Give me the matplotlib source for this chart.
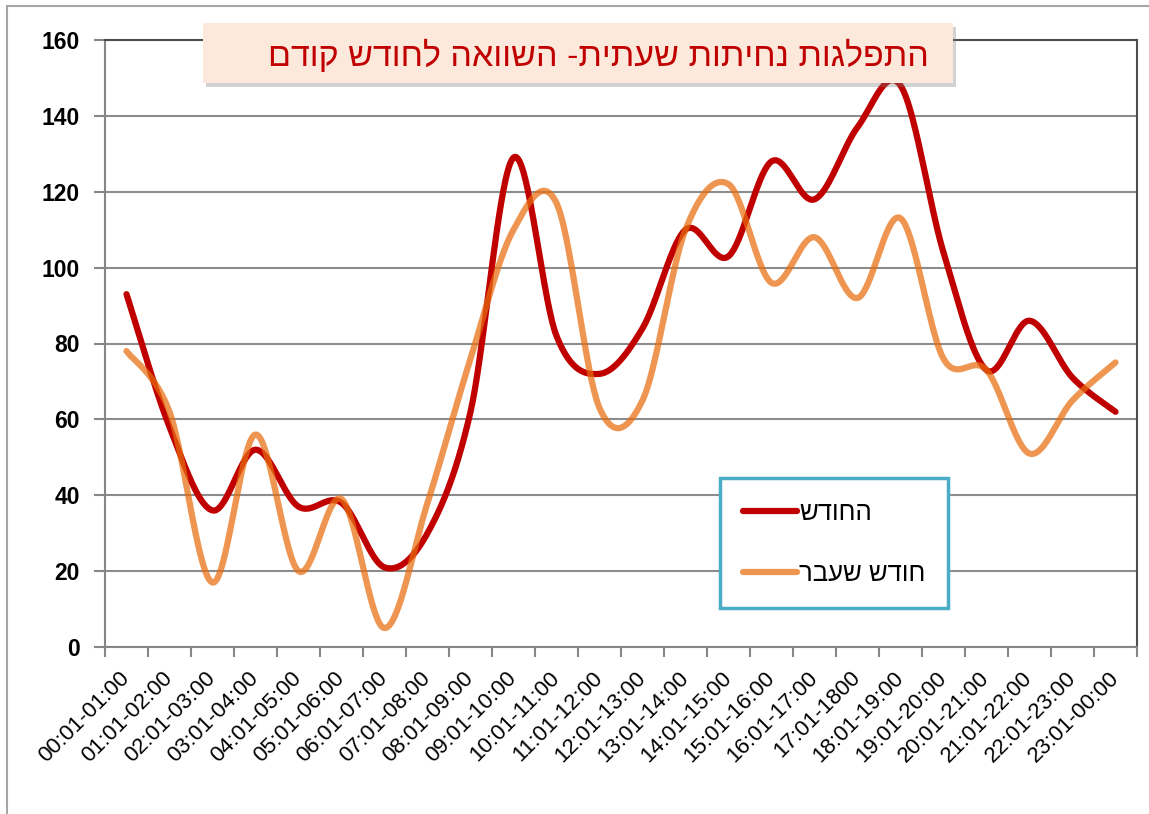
import matplotlib
matplotlib.use("Agg")
import matplotlib.pyplot as plt
import numpy as np
from matplotlib.patches import Rectangle

# ---------------- data ----------------
categories = ["00:01-01:00", "01:01-02:00", "02:01-03:00", "03:01-04:00", "04:01-05:00",
              "05:01-06:00", "06:01-07:00", "07:01-08:00", "08:01-09:00", "09:01-10:00",
              "10:01-11:00", "11:01-12:00", "12:01-13:00", "13:01-14:00", "14:01-15:00",
              "15:01-16:00", "16:01-17:00", "17:01-1800", "18:01-19:00", "19:01-20:00",
              "20:01-21:00", "21:01-22:00", "22:01-23:00", "23:01-00:00"]
this_month = [93, 58, 36, 52, 37, 38, 21, 30, 62, 129, 82, 72, 84, 110, 103, 128,
              118, 137, 148, 104, 73, 86, 71, 62]
last_month = [78, 62, 17, 56, 20, 39, 5, 38, 76, 110, 117, 63, 65, 110, 122, 96,
              108, 92, 113, 76, 73, 51, 65, 75]
series_names = ["החודש", "חודש שעבר"]
title_text = "התפלגות נחיתות שעתית- השוואה לחודש קודם"
y_ticks = [0, 20, 40, 60, 80, 100, 120, 140, 160]


def visual(s):
    # matplotlib has no bidi support: reverse Hebrew for right-to-left display
    return s[::-1]


def smooth(xs, ys, n=40):
    """Excel-like smoothed line (Catmull-Rom through the points as cubic Bezier)."""
    xs = np.asarray(xs, float)
    ys = np.asarray(ys, float)
    P = np.column_stack([xs, ys])
    out = []
    m = len(P)
    for i in range(m - 1):
        p0 = P[i - 1] if i > 0 else P[i]
        p1 = P[i]
        p2 = P[i + 1]
        p3 = P[i + 2] if i + 2 < m else P[i + 1]
        c1 = p1 + (p2 - p0) / 6.0
        c2 = p2 - (p3 - p1) / 6.0
        t = np.linspace(0, 1, n)[:, None]
        seg = ((1 - t) ** 3) * p1 + 3 * ((1 - t) ** 2) * t * c1 + 3 * (1 - t) * t ** 2 * c2 + t ** 3 * p2
        out.append(seg if i == 0 else seg[1:])
    arr = np.vstack(out)
    return arr[:, 0], arr[:, 1]


W, H = 1149, 814
fig = plt.figure(figsize=(W / 100, H / 100), dpi=100)
fig.patch.set_facecolor("white")

# outer chart border (extends past right / bottom edges)
fig.add_artist(Rectangle((7 / W, -0.2), 1.3, 1.2 - 6 / H, transform=fig.transFigure,
                         fill=False, edgecolor="#A6A6A6", linewidth=1.5))

ax = fig.add_axes([105 / W, 1 - 647 / H, (1137 - 105) / W, (647 - 40) / H])
x = np.arange(len(categories))

ax.set_xlim(-0.5, len(categories) - 0.5)
ax.set_ylim(0, 160)
ax.set_yticks(y_ticks)
ax.yaxis.grid(True, color="#8C8C8C", linewidth=1.5)
ax.set_axisbelow(True)

xs1, ys1 = smooth(x, this_month)
xs2, ys2 = smooth(x, last_month)
red_line, = ax.plot(xs1, ys1, color="#C00000", linewidth=4.5, solid_capstyle="round",
                    solid_joinstyle="round", zorder=3)
orange_line, = ax.plot(xs2, ys2, color="#E86E0E", alpha=0.72, linewidth=4.5,
                       solid_capstyle="round", solid_joinstyle="round", zorder=4)

# spines
for s in ["left", "bottom"]:
    ax.spines[s].set_color("#868686")
    ax.spines[s].set_linewidth(1.5)
for s in ["top", "right"]:
    ax.spines[s].set_color("#4D4D4D")
    ax.spines[s].set_linewidth(1.5)

# y tick labels
ax.tick_params(axis="y", direction="out", length=8, width=1.5, color="#868686", pad=10)
for lab in ax.get_yticklabels():
    lab.set_fontsize(16.5)
    lab.set_fontweight("bold")
    lab.set_fontfamily("Liberation Sans")

# x ticks: marks at category boundaries, labels at centers
ax.set_xticks(x)
ax.set_xticklabels(categories, rotation=45, ha="right", va="center", fontsize=16,
                   fontfamily="Liberation Sans", rotation_mode="anchor")
ax.set_xticks(np.arange(-0.5, len(categories), 1.0), minor=True)
ax.tick_params(axis="x", which="major", length=0, pad=20)
ax.tick_params(axis="x", which="minor", direction="out", length=7, width=1.5, color="#868686")

# title box with shadow
bx0, by0, bx1, by1 = 203, 23, 953, 83
fig.add_artist(Rectangle(((bx0 + 3) / W, 1 - (by1 + 4) / H), (bx1 - bx0) / W, (by1 - by0) / H,
                         transform=fig.transFigure, facecolor="#7F7F7F", alpha=0.35,
                         edgecolor="none", zorder=5))
fig.add_artist(Rectangle((bx0 / W, 1 - by1 / H), (bx1 - bx0) / W, (by1 - by0) / H,
                         transform=fig.transFigure, facecolor="#FDE9DB", edgecolor="none",
                         zorder=6))
fig.text(598 / W, 1 - 56 / H, visual(title_text), color="#C00000", fontsize=24.5,
         family=["Liberation Sans", "DejaVu Sans"], ha="center", va="center", zorder=7)

# legend
leg = ax.legend([red_line, orange_line], [visual(n) for n in series_names],
                loc="upper left", bbox_to_anchor=((720 - 105) / 1032, (647 - 478) / 607),
                bbox_transform=ax.transAxes, frameon=True, fancybox=False,
                edgecolor="#4BACC6", framealpha=1, handlelength=2.1,
                handletextpad=0.1, labelspacing=1.45, borderpad=0.88, borderaxespad=0,
                prop={"family": ["Liberation Sans", "DejaVu Sans"], "size": 18.5})
leg.get_frame().set_linewidth(2.5)
leg.set_zorder(10)

fig.savefig("out.png", dpi=100)
